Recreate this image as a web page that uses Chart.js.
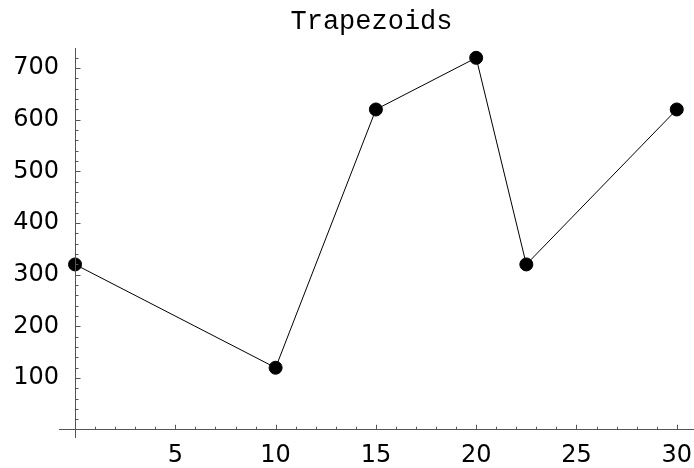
<!DOCTYPE html>
<html>
<head>
<meta charset="utf-8">
<script src="https://cdn.jsdelivr.net/npm/chart.js@4.4.0/dist/chart.umd.min.js"></script>
<style>
  html, body { margin: 0; padding: 0; background: #fff; }
  #wrap { width: 694px; height: 468px; }
</style>
</head>
<body>
<div id="wrap"><canvas id="chart_trap"></canvas></div>
<script>
//---------------DATOS-----------
const xValues = [0, 10, 15, 20, 22.5, 30];
const yValues = [320, 120, 620, 720, 320, 620];
const xTickLabels = [5, 10, 15, 20, 25, 30];
const yTickLabels = [100, 200, 300, 400, 500, 600, 700];
const titleText = 'Trapezoids';

const points = xValues.map((x, i) => ({ x: x, y: yValues[i] }));

// eje y en x=0 y ticks (mayores y menores) hacia adentro, como en el original
const axisTicks = {
  id: 'axisTicks',
  afterLayout(chart) {
    // que las etiquetas del eje y no queden recortadas por el padding
    chart.scales.y.left = 0;
  },
  afterDraw(chart) {
    const ctx = chart.ctx;
    const xs = chart.scales.x;
    const ys = chart.scales.y;
    const x0 = Math.round(xs.getPixelForValue(0)) + 0.5;
    const y0 = ys.getPixelForValue(0);
    ctx.save();
    ctx.strokeStyle = '#555';
    ctx.lineWidth = 1;
    ctx.beginPath();
    ctx.moveTo(x0, chart.chartArea.top);
    ctx.lineTo(x0, chart.chartArea.bottom);
    for (let v = 1; v <= 30; v++) {
      const px = Math.round(xs.getPixelForValue(v)) + 0.5;
      const len = v % 5 === 0 ? 5 : 3;
      ctx.moveTo(px, y0);
      ctx.lineTo(px, y0 - len);
    }
    for (let v = 20; v <= 720; v += 20) {
      const py = Math.round(ys.getPixelForValue(v)) + 0.5;
      const len = v % 100 === 0 ? 5 : 3;
      ctx.moveTo(x0, py);
      ctx.lineTo(x0 + len, py);
    }
    ctx.stroke();
    ctx.restore();
  }
};

const ctx_t = document.getElementById('chart_trap').getContext('2d');
const chart_trap = new Chart(ctx_t, {
  type: 'scatter',
  data: {
    datasets: [{
      data: points,
      showLine: true,
      borderColor: '#000',
      borderWidth: 1,
      backgroundColor: '#000',
      pointRadius: 6.5,
      pointHoverRadius: 6.5,
      clip: false
    }]
  },
  options: {
    responsive: true,
    maintainAspectRatio: false,
    animation: false,
    layout: { autoPadding: false, padding: { left: 49, right: 0, top: 0, bottom: 30 } },
    plugins: {
      legend: { display: false },
      tooltip: { enabled: false },
      title: {
        display: true,
        text: titleText,
        color: '#000',
        font: { family: '"Liberation Mono", "DejaVu Sans Mono", monospace', size: 27, weight: 'normal' },
        padding: { top: 6, bottom: 9.6 }
      }
    },
    scales: {
      x: {
        type: 'linear',
        position: { y: 0 },
        min: -0.8,
        max: 30.86,
        afterFit(scale) {
          scale.height = 0;
          scale.paddingLeft = 0;
          scale.paddingRight = 0;
        },
        grid: { display: false, drawTicks: false },
        border: { display: true, color: '#555', width: 1 },
        ticks: {
          stepSize: 5,
          includeBounds: false,
          autoSkip: false,
          maxRotation: 0,
          padding: 12,
          color: '#000',
          font: { family: '"DejaVu Sans", sans-serif', size: 24 },
          callback: v => xTickLabels.includes(v) ? String(v) : ''
        }
      },
      y: {
        type: 'linear',
        position: 'left',
        min: -16,
        max: 739,
        afterFit(scale) {
          scale.width = 10;
          scale.paddingTop = 0;
          scale.paddingBottom = 0;
        },
        grid: { display: false, drawTicks: false },
        border: { display: false },
        ticks: {
          stepSize: 100,
          includeBounds: false,
          autoSkip: false,
          padding: 0,
          color: '#000',
          font: { family: '"DejaVu Sans", sans-serif', size: 24 },
          callback: v => yTickLabels.includes(v) ? String(v) : ''
        }
      }
    }
  },
  plugins: [axisTicks]
});
</script>
</body>
</html>
